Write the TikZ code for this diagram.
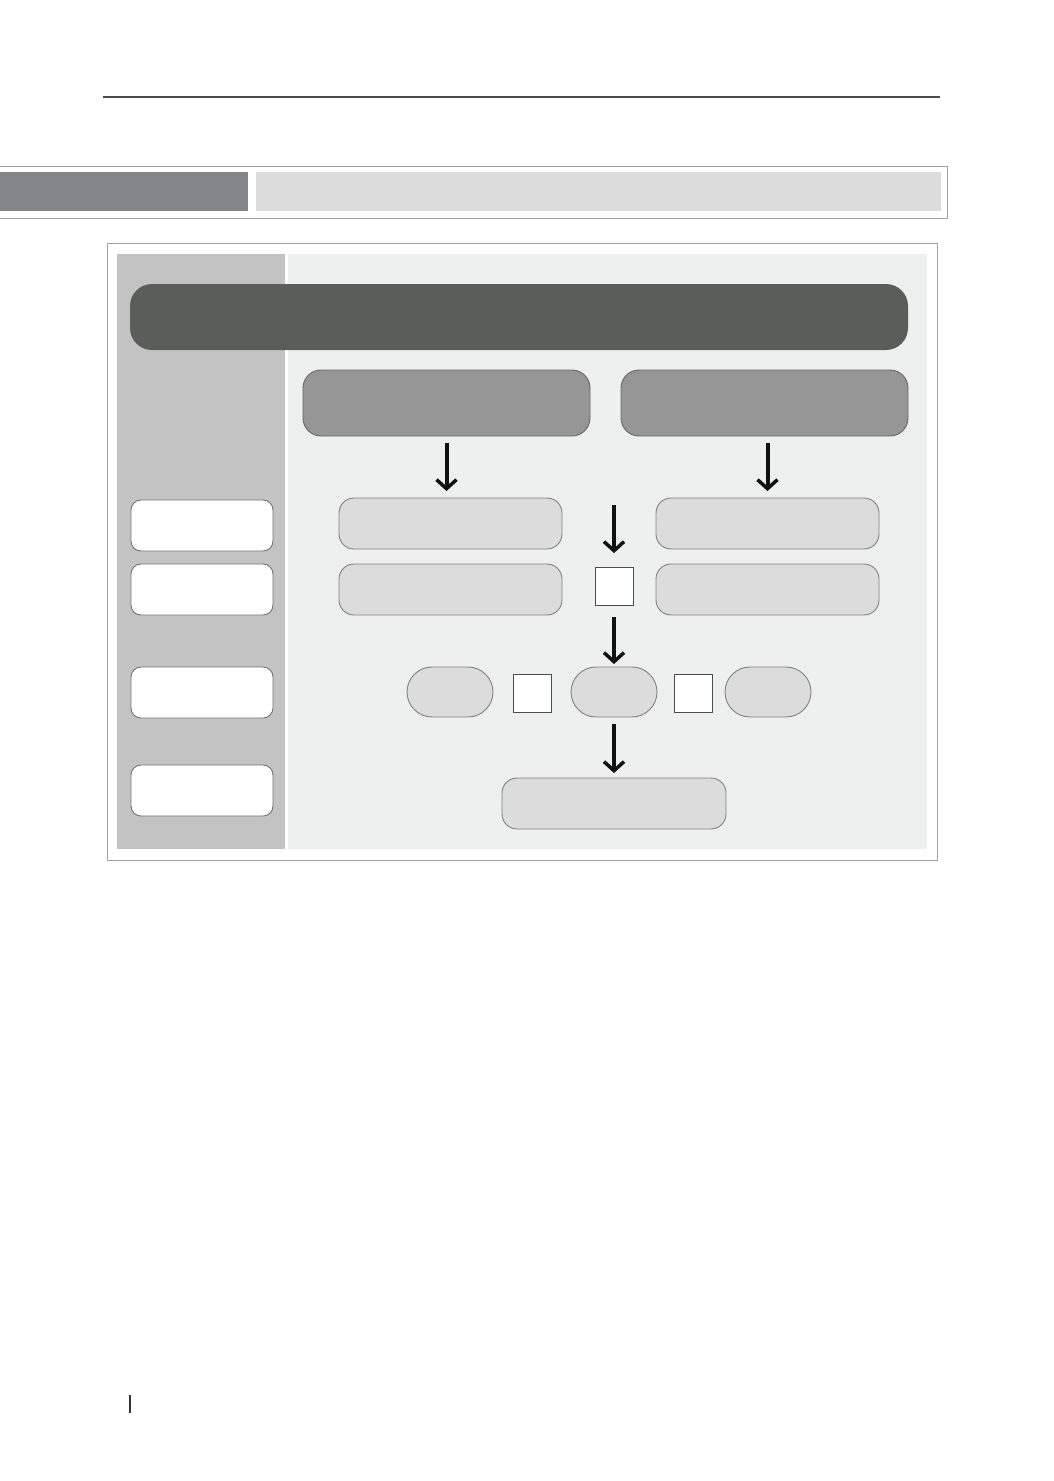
\documentclass[tikz,border=0pt]{standalone}
\usetikzlibrary{arrows.meta}
\definecolor{hdrdark}{HTML}{858688}
\definecolor{hdrlight}{HTML}{DCDCDC}
\definecolor{sidebar}{HTML}{C2C3C2}
\definecolor{panel}{HTML}{EEF0EF}
\definecolor{banner}{HTML}{5B5D5A}
\definecolor{midgray}{HTML}{959695}
\definecolor{lightbox}{HTML}{DCDCDC}
\definecolor{framegray}{HTML}{A0A0A0}
\definecolor{arrowblk}{HTML}{111111}
\tikzset{
  px/.style={x=1pt,y=-1pt},
  box/.style={draw=#1, line width=0.9pt, inner sep=0pt, outer sep=0pt, anchor=north west},
  bannerbox/.style={fill=banner, rounded corners=22pt, inner sep=0pt, outer sep=0pt, anchor=north west, minimum width=778pt, minimum height=66pt},
  graybox/.style={box=black!60, fill=midgray, rounded corners=18pt, minimum width=287pt, minimum height=66pt},
  lightrect/.style={box=black!50, fill=lightbox, rounded corners=15pt, minimum width=223pt, minimum height=51pt},
  sidebox/.style={box=black!55, fill=white, rounded corners=10pt, minimum width=142pt, minimum height=51pt},
  pill/.style={box=black!50, fill=lightbox, rounded corners=25pt, minimum width=86pt, minimum height=50pt},
  sq/.style={box=black!70, fill=white, minimum width=38pt, minimum height=38pt},
  bigarrow/.style={draw=arrowblk, line width=4pt, -{Straight Barb[length=9pt,width=20pt,line width=3.5pt]}},
}
\begin{document}
\begin{tikzpicture}[px]
\useasboundingbox (0,0) rectangle (1054,1481);
% top rule
\draw[black!70, line width=1.5pt] (103,97) -- (940,97);
% header band
\draw[framegray, line width=1pt, fill=white] (-2,166) rectangle (947,218);
\fill[hdrdark] (0,172) rectangle (248,211);
\fill[hdrlight] (256,172) rectangle (941,211);
% main frame
\draw[framegray, line width=1pt, fill=white] (107,243) rectangle (937,860);
\fill[sidebar] (117,254) rectangle (285,849);
\fill[panel] (288,254) rectangle (927,849);
% banner
\node[bannerbox] (ban) at (130,284) {};
% gray boxes
\node[graybox] (gl) at (303,370) {};
\node[graybox] (gr) at (621,370) {};
% light boxes
\node[lightrect] (l1) at (339,498) {};
\node[lightrect] (r1) at (656,498) {};
\node[lightrect] (l2) at (339,564) {};
\node[lightrect] (r2) at (656,564) {};
\node[sq] (s1) at (595,567) {};
% side boxes
\node[sidebox] (sb1) at (131,500) {};
\node[sidebox] (sb2) at (131,564) {};
\node[sidebox] (sb3) at (131,667) {};
\node[sidebox] (sb4) at (131,765) {};
% third row
\node[pill] (p1) at (407,667) {};
\node[sq] (s2) at (513,674) {};
\node[pill] (p2) at (571,667) {};
\node[sq] (s3) at (674,674) {};
\node[pill] (p3) at (725,667) {};
% bottom box
\node[lightrect, minimum width=224pt] (bot) at (502,778) {};
% arrows
\coordinate (m0) at (614,505);
\draw[bigarrow, shorten <=7pt, shorten >=7pt] (gl.south) -- (gl.south |- l1.north);
\draw[bigarrow, shorten <=7pt, shorten >=7pt] (r1.north |- gr.south) -- (r1.north);
\draw[bigarrow, shorten >=14pt] (m0) -- (s1.north);
\draw[bigarrow, shorten <=12pt, shorten >=3pt] (s1.south) -- (p2.north);
\draw[bigarrow, shorten <=7pt, shorten >=5pt] (p2.south) -- (bot.north);
% page mark
\draw[black!80, line width=1.2pt] (130,1395) -- (130,1413);
\end{tikzpicture}
\end{document}
